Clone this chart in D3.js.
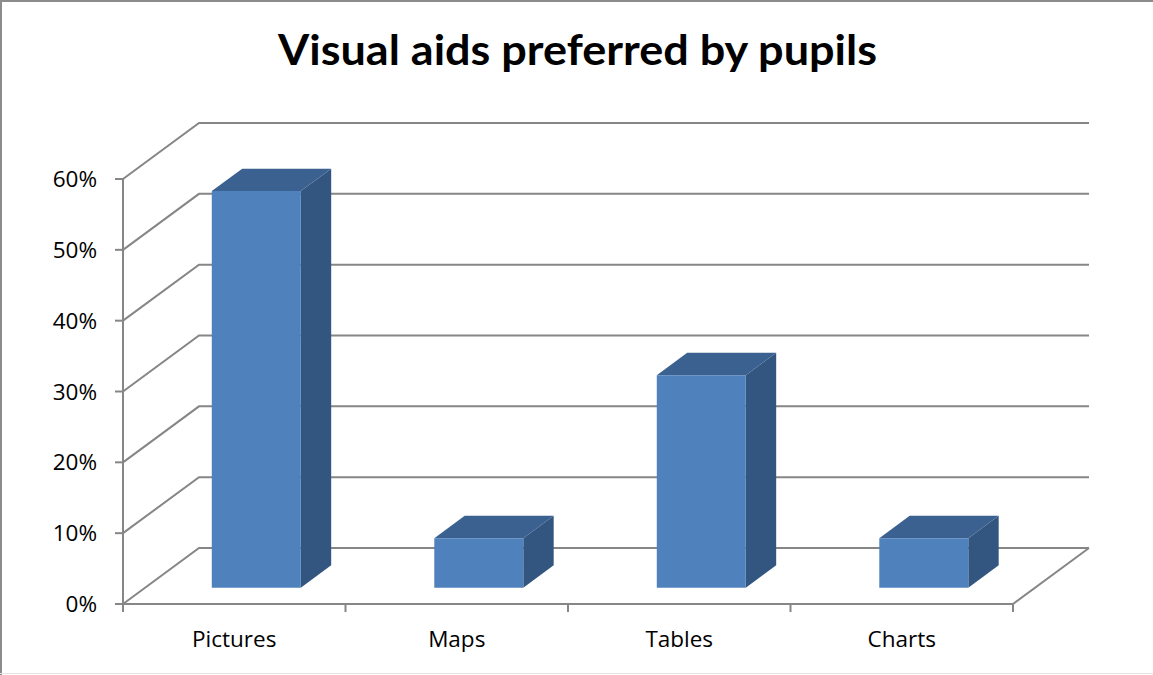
<!DOCTYPE html>
<html>
<head>
<meta charset="utf-8">
<script src="https://cdn.jsdelivr.net/npm/d3@7"></script>
<style>
  html, body { margin: 0; padding: 0; background: #fff; }
  svg { display: block; }
  text { fill: #000; }
  .title { font-family: Lato, "Open Sans", "Liberation Sans", sans-serif; }
  .label { font-family: "Open Sans", Lato, "Liberation Sans", sans-serif; }
</style>
</head>
<body>
<svg id="chart" width="1153" height="675"></svg>
<script>
// Chart data
const title = "Visual aids preferred by pupils";
const categories = ["Pictures", "Maps", "Tables", "Charts"];
const shares = [0.56, 0.07, 0.30, 0.07];
const tickValues = [0, 0.1, 0.2, 0.3, 0.4, 0.5, 0.6];

const svg = d3.select("#chart");
const W = 1153, H = 675;

// Plot frame (front plane) and depth vector for the oblique 3D look
const x0 = 123, x1 = 1013;
const yFront0 = 604, yFrontTop = 179;
const depth = { dx: 76, dy: -56 };

const y = d3.scaleLinear().domain([0, 0.6]).range([yFront0, yFrontTop]);
const x = d3.scaleBand().domain(categories).range([x0, x1])
  .paddingInner(0.6).paddingOuter(0.3);
const step = (x1 - x0) / categories.length;
// depth position 0 (front) .. 1 (back wall)
const z = d3.scaleLinear().domain([0, 1]).range([0, 1]);
const P = (px, py, d) => [px + z(d) * depth.dx, py + z(d) * depth.dy];

const gridColor = "#868686";

// Outer chart border
svg.append("line").attr("x1", 1).attr("y1", 0).attr("x2", 1).attr("y2", H)
  .attr("stroke", "#8c8c8c").attr("stroke-width", 2);
svg.append("line").attr("x1", 0).attr("y1", 1).attr("x2", W).attr("y2", 1)
  .attr("stroke", "#8c8c8c").attr("stroke-width", 2);
svg.append("line").attr("x1", 0).attr("y1", 673.5).attr("x2", W).attr("y2", 673.5)
  .attr("stroke", "#e3e3e3").attr("stroke-width", 1);

// Title
svg.append("text").attr("class", "title")
  .attr("x", 577.5).attr("y", 65)
  .attr("text-anchor", "middle")
  .attr("font-size", 42).attr("font-weight", 700)
  .attr("textLength", 599).attr("lengthAdjust", "spacingAndGlyphs")
  .text(title);

const line = d3.line();
const grid = svg.append("g").attr("fill", "none")
  .attr("stroke", gridColor).attr("stroke-width", 2);

// Gridlines: diagonal on side wall, horizontal on back wall
tickValues.forEach(v => {
  const a = [x0, y(v)], b = P(x0, y(v), 1), c = P(x1, y(v), 1);
  grid.append("path").attr("d", line([a, b, c]));
});

// Floor right edge
grid.append("path").attr("d", line([[x1, yFront0], P(x1, yFront0, 1)]));

// Value axis line, ticks and labels
grid.append("path").attr("d", line([[x0, y(0)], [x0, y(0.6)]]));
tickValues.forEach(v => {
  grid.append("path").attr("d", line([[x0 - 8, y(v)], [x0, y(v)]]));
  svg.append("text").attr("class", "label")
    .attr("x", 97).attr("y", y(v) + 8)
    .attr("text-anchor", "end").attr("font-size", 22.5)
    .text(d3.format(".0%")(v));
});

// Category axis line, ticks and labels
grid.append("path").attr("d", line([[x0, y(0)], [x1, y(0)]]));
d3.range(categories.length + 1).forEach(i => {
  const px = x0 + i * step;
  grid.append("path").attr("d", line([[px, y(0)], [px, y(0) + 8]]));
});
categories.forEach(c => {
  svg.append("text").attr("class", "label")
    .attr("x", x(c) + x.bandwidth() / 2)
    .attr("y", 647)
    .attr("text-anchor", "middle").attr("font-size", 22.5)
    .text(c);
});

// 3D bars
const zFront = 0.29, zBack = 0.69;
const bars = svg.append("g");
categories.forEach((c, i) => {
  const v = shares[i];
  const L = x(c), R = x(c) + x.bandwidth();
  const yb = y(0), yt = y(v);
  const fTL = P(L, yt, zFront), fTR = P(R, yt, zFront);
  const fBL = P(L, yb, zFront), fBR = P(R, yb, zFront);
  const bTL = P(L, yt, zBack), bTR = P(R, yt, zBack);
  const bBR = P(R, yb, zBack);
  const g = bars.append("g");
  // right side
  g.append("path").attr("d", line([fTR, bTR, bBR, fBR]) + "Z")
    .attr("fill", "#335680");
  // top
  g.append("path").attr("d", line([fTL, bTL, bTR, fTR]) + "Z")
    .attr("fill", "#3b6191");
  // front
  g.append("path").attr("d", line([fTL, fTR, fBR, fBL]) + "Z")
    .attr("fill", "#4f81bd");
});
</script>
</body>
</html>
